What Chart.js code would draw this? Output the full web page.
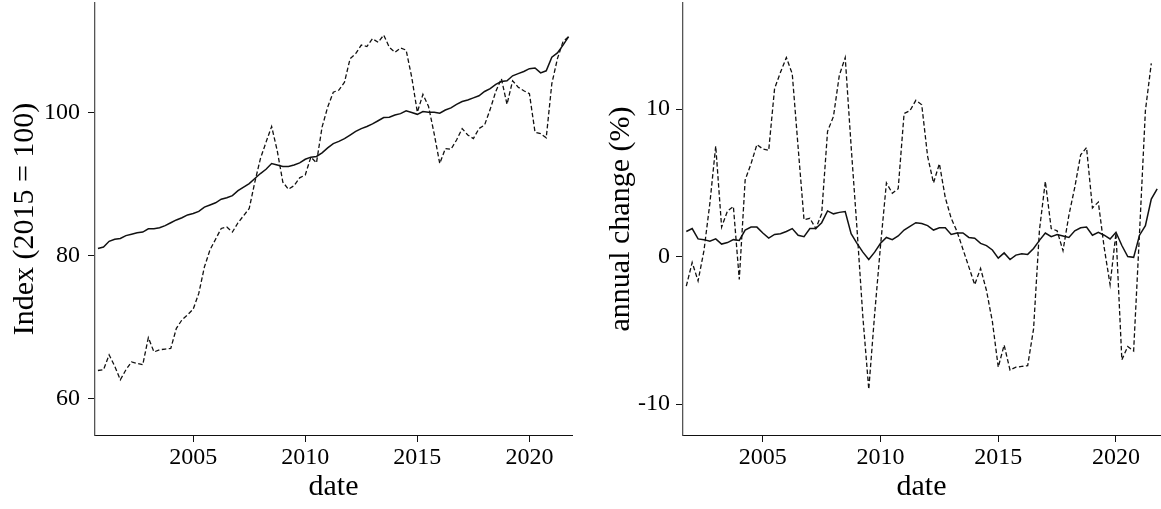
<!DOCTYPE html>
<html>
<head>
<meta charset="utf-8">
<script src="https://cdn.jsdelivr.net/npm/chart.js@4.4.1/dist/chart.umd.min.js"></script>
<style>
  html, body { margin: 0; padding: 0; background: #fff; }
  #wrap { position: relative; width: 1161px; height: 509px; }
  .panel { position: absolute; top: 0; height: 509px; }
  #left { left: 0; width: 580px; }
  #right { left: 580px; width: 581px; }
</style>
</head>
<body>
<div id="wrap">
  <div class="panel" id="left"><canvas id="index-chart" width="580" height="509"></canvas></div>
  <div class="panel" id="right"><canvas id="change-chart" width="581" height="509"></canvas></div>
</div>
<script>
// quarterly observations, 2000Q4 .. 2021Q4
const quarters = [
  '2000Q4',
  '2001Q1', '2001Q2', '2001Q3', '2001Q4', '2002Q1', '2002Q2', '2002Q3', '2002Q4',
  '2003Q1', '2003Q2', '2003Q3', '2003Q4', '2004Q1', '2004Q2', '2004Q3', '2004Q4',
  '2005Q1', '2005Q2', '2005Q3', '2005Q4', '2006Q1', '2006Q2', '2006Q3', '2006Q4',
  '2007Q1', '2007Q2', '2007Q3', '2007Q4', '2008Q1', '2008Q2', '2008Q3', '2008Q4',
  '2009Q1', '2009Q2', '2009Q3', '2009Q4', '2010Q1', '2010Q2', '2010Q3', '2010Q4',
  '2011Q1', '2011Q2', '2011Q3', '2011Q4', '2012Q1', '2012Q2', '2012Q3', '2012Q4',
  '2013Q1', '2013Q2', '2013Q3', '2013Q4', '2014Q1', '2014Q2', '2014Q3', '2014Q4',
  '2015Q1', '2015Q2', '2015Q3', '2015Q4', '2016Q1', '2016Q2', '2016Q3', '2016Q4',
  '2017Q1', '2017Q2', '2017Q3', '2017Q4', '2018Q1', '2018Q2', '2018Q3', '2018Q4',
  '2019Q1', '2019Q2', '2019Q3', '2019Q4', '2020Q1', '2020Q2', '2020Q3', '2020Q4',
  '2021Q1', '2021Q2', '2021Q3', '2021Q4',
];

// left panel: index (2015 = 100)
const indexSolid = [
  81.0,
  81.2, 82.0, 82.3, 82.4, 82.8, 83.0, 83.2, 83.3,
  83.75, 83.75, 83.9, 84.2, 84.6, 85.0, 85.3, 85.7,
  85.9, 86.2, 86.8, 87.1, 87.4, 87.9, 88.1, 88.4,
  89.1, 89.6, 90.1, 90.8, 91.5, 92.1, 92.9, 92.7,
  92.5, 92.5, 92.7, 93.0, 93.5, 93.8, 93.9, 94.4,
  95.1, 95.7, 96.0, 96.4, 96.9, 97.4, 97.8, 98.1,
  98.45, 98.9, 99.35, 99.4, 99.7, 99.9, 100.3, 100.05,
  99.8, 100.2, 100.1, 100.1, 99.95, 100.4, 100.7, 101.2,
  101.6, 101.8, 102.1, 102.4, 103.0, 103.4, 104.0, 104.4,
  104.5, 105.2, 105.5, 105.8, 106.2, 106.3, 105.6, 105.9,
  107.8, 108.4, 109.5, 110.7,
];
const indexDashed = [
  63.9,
  64.0, 66.1, 64.5, 62.6, 64.0, 65.1, 64.9, 64.7,
  68.5, 66.5, 66.8, 66.9, 67.0, 69.8, 71.0, 71.7,
  72.5, 74.7, 78.4, 80.8, 82.3, 83.8, 84.0, 83.3,
  84.6, 85.6, 86.6, 90.3, 93.6, 95.9, 98.1, 94.7,
  90.3, 89.3, 89.8, 90.9, 91.3, 93.8, 93.0, 98.0,
  100.8, 102.9, 103.2, 104.3, 107.6, 108.3, 109.5, 109.3,
  110.4, 109.9, 110.9, 109.2, 108.5, 109.1, 108.8, 105.0,
  100.1, 102.6, 100.9, 97.1, 92.9, 95.0, 94.9, 96.2,
  97.8, 96.9, 96.4, 97.8, 98.3, 100.5, 103.0, 104.8,
  101.2, 104.5, 103.6, 103.1, 102.7, 97.3, 97.1, 96.5,
  104.1, 107.6, 110.0, 110.7,
];

// right panel: annual change (%), 2001Q4 .. 2021Q4
const changeSolid = [
  1.7, 1.9, 1.2, 1.15, 1.05, 1.2, 0.85, 0.95,
  1.15, 1.1, 1.8, 2.0, 2.0, 1.6, 1.25, 1.5,
  1.55, 1.7, 1.9, 1.45, 1.35, 1.9, 1.9, 2.3,
  3.1, 2.9, 3.0, 3.05, 1.55, 0.9, 0.3, -0.2,
  0.3, 0.9, 1.3, 1.15, 1.4, 1.8, 2.05, 2.3,
  2.25, 2.1, 1.8, 1.95, 1.95, 1.5, 1.6, 1.6,
  1.3, 1.25, 0.9, 0.75, 0.45, -0.1, 0.25, -0.2,
  0.1, 0.2, 0.15, 0.55, 1.1, 1.6, 1.35, 1.5,
  1.4, 1.3, 1.75, 1.95, 2.0, 1.45, 1.65, 1.45,
  1.2, 1.65, 0.75, 0.0, -0.05, 1.45, 2.1, 3.9,
  4.6,
];
const changeDashed = [
  -2.0, -0.4, -1.65, 0.4, 3.6, 7.5, 2.0, 3.1,
  3.4, -1.55, 5.2, 6.3, 7.6, 7.3, 7.2, 11.4,
  12.5, 13.5, 12.4, 7.4, 2.5, 2.6, 1.9, 2.9,
  8.5, 9.5, 12.3, 13.5, 7.5, 1.9, -4.1, -9.0,
  -3.9, 0.75, 5.0, 4.3, 4.6, 9.7, 9.9, 10.6,
  10.3, 6.8, 5.0, 6.3, 4.0, 2.6, 1.7, 0.5,
  -0.7, -1.9, -0.8, -2.3, -4.4, -7.5, -6.0, -7.7,
  -7.5, -7.45, -7.4, -4.9, 1.8, 5.1, 1.9, 1.75,
  0.4, 2.8, 4.7, 6.9, 7.4, 3.3, 3.7, 0.6,
  -1.9, 1.6, -7.0, -6.1, -6.4, 1.6, 9.9, 13.1,
  null,
];

const xTicks = [2005, 2010, 2015, 2020];
const indexTicks = [60, 80, 100];
const changeTicks = [-10, 0, 10];

const FONT = "'Liberation Serif', 'Times New Roman', serif";
const tickFont = { family: FONT, size: 24 };
const titleFont = { family: FONT, size: 30 };
const INK = '#111';

const qToYear = (q) => Number(q.slice(0, 4)) + (Number(q.slice(5)) - 1) / 4;
const toPoints = (qs, vals) => qs.map((q, i) => ({ x: qToYear(q), y: vals[i] }));

function lineSet(points, dashed) {
  return {
    data: points,
    borderColor: INK,
    borderWidth: dashed ? 1.3 : 1.5,
    borderDash: dashed ? [4.5, 2.5] : [],
    pointRadius: 0,
    tension: 0,
    fill: false,
    spanGaps: false,
  };
}

// keep the plot box exactly where the reference has it
const noPad = (s) => { s.paddingTop = 0; s.paddingBottom = 0; s.paddingLeft = 0; s.paddingRight = 0; };

function panel(canvasId, cfg) {
  return new Chart(document.getElementById(canvasId), {
    type: 'line',
    data: { datasets: cfg.datasets },
    options: {
      responsive: false,
      animation: false,
      parsing: false,
      events: [],
      layout: { padding: { top: 3, right: cfg.padRight, bottom: 0, left: 0 } },
      plugins: { legend: { display: false }, tooltip: { enabled: false } },
      scales: {
        x: {
          type: 'linear',
          min: cfg.xMin,
          max: cfg.xMax,
          afterBuildTicks: (s) => { s.ticks = xTicks.map((v) => ({ value: v })); },
          afterFit: (s) => { s.height = 74; noPad(s); },
          border: { color: INK, width: 1 },
          grid: { drawOnChartArea: false, drawTicks: true, tickLength: 7, tickColor: INK, tickWidth: 1 },
          ticks: { font: tickFont, color: '#000', padding: 1, maxRotation: 0, autoSkip: false, callback: (v) => String(v) },
          title: { display: true, text: 'date', font: titleFont, color: '#000', padding: { top: 0, bottom: 4 } },
        },
        y: {
          min: cfg.yMin,
          max: cfg.yMax,
          afterBuildTicks: (s) => { s.ticks = cfg.yTicks.map((v) => ({ value: v })); },
          afterFit: (s) => { s.width = cfg.yWidth; noPad(s); },
          border: { color: '#555', width: 1.3 },
          grid: { drawOnChartArea: false, drawTicks: true, tickLength: 7, tickColor: INK, tickWidth: 1 },
          ticks: { font: tickFont, color: '#000', padding: cfg.tickPad, callback: (v) => String(v) },
          title: { display: true, text: cfg.yTitle, font: titleFont, color: '#000', padding: { top: cfg.titlePad, bottom: 0 } },
        },
      },
    },
  });
}

panel('index-chart', {
  datasets: [lineSet(toPoints(quarters, indexSolid), false), lineSet(toPoints(quarters, indexDashed), true)],
  xMin: 2000.62, xMax: 2021.9,
  yMin: 54.86, yMax: 115.4, yTicks: indexTicks,
  yWidth: 95, tickPad: 8, titlePad: 7, padRight: 8,
  yTitle: 'Index (2015 = 100)',
});

const changeQuarters = quarters.slice(4);
panel('change-chart', {
  datasets: [lineSet(toPoints(changeQuarters, changeSolid), false), lineSet(toPoints(changeQuarters, changeDashed), true)],
  xMin: 2001.61, xMax: 2021.87,
  yMin: -12.1, yMax: 17.2, yTicks: changeTicks,
  yWidth: 103, tickPad: 6, titlePad: 23, padRight: 1,
  yTitle: 'annual change (%)',
});
</script>
</body>
</html>
